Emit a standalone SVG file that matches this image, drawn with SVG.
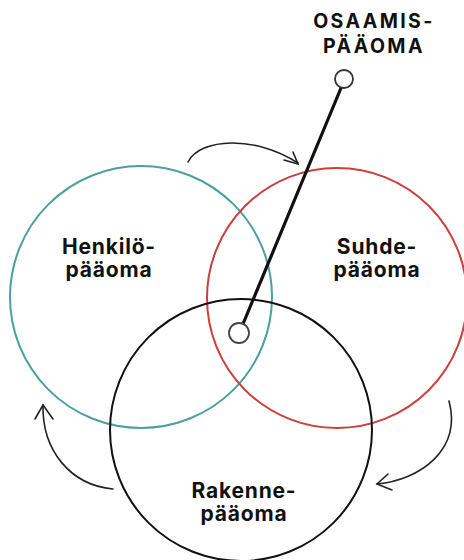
<svg xmlns="http://www.w3.org/2000/svg" width="464" height="560" viewBox="0 0 464 560">
  <style>
    .lbl { font-family: Inter, "Open Sans", "DejaVu Sans", sans-serif; font-weight: 700; font-size: 21px; fill: #111; text-anchor: middle; letter-spacing: 0.8px; }
    .cap { font-family: Inter, "Open Sans", "DejaVu Sans", sans-serif; font-weight: 700; font-size: 19.5px; fill: #111; text-anchor: middle; letter-spacing: 2.4px; }
    .ring { fill: none; stroke-width: 2; }
    .arc { fill: none; stroke: #222; stroke-width: 1.6; stroke-linecap: round; }
  </style>
  <rect width="464" height="560" fill="#fff"/>

  <g id="henkilopaaoma">
    <circle class="ring" cx="141" cy="297" r="131" stroke="#4a9f9f"/>
    <text class="lbl" x="109" y="254">Henkilö-</text>
    <text class="lbl" x="109" y="277">pääoma</text>
  </g>
  <g id="suhdepaaoma">
    <circle class="ring" cx="337" cy="298" r="130" stroke="#c9413f"/>
    <text class="lbl" x="377" y="254">Suhde-</text>
    <text class="lbl" x="377" y="277">pääoma</text>
  </g>
  <g id="rakennepaaoma">
    <circle class="ring" cx="241" cy="430" r="131" stroke="#111"/>
    <text class="lbl" x="244" y="498">Rakenne-</text>
    <text class="lbl" x="244" y="521">pääoma</text>
  </g>

  <g id="connectors">
    <!-- pointer from the centre to the top label -->
    <line x1="341" y1="88" x2="243" y2="324" stroke="#111" stroke-width="3.2" stroke-linecap="round"/>
    <!-- cycle arrows -->
    <path class="arc" d="M188,162 C200,138 255,135 298,163"/>
    <path class="arc" d="M284,160 L298,164 L293,152"/>
    <path class="arc" d="M449,401 C462,450 420,480 377,484"/>
    <path class="arc" d="M388,474 L377,484 L392,490"/>
    <path class="arc" d="M113,489 C70,485 42,450 43,405"/>
    <path class="arc" d="M35,419 L43,405 L53,419"/>
  </g>

  <g id="osaamispaaoma">
    <circle cx="344" cy="79" r="9" fill="#fff" stroke="#333" stroke-width="1.8"/>
    <text class="cap" x="374" y="28">OSAAMIS-</text>
    <text class="cap" x="374" y="53">PÄÄOMA</text>
  </g>
  <g id="keskus">
    <circle cx="239" cy="333" r="10" fill="#fff" stroke="#444" stroke-width="1.8"/>
  </g>
</svg>
